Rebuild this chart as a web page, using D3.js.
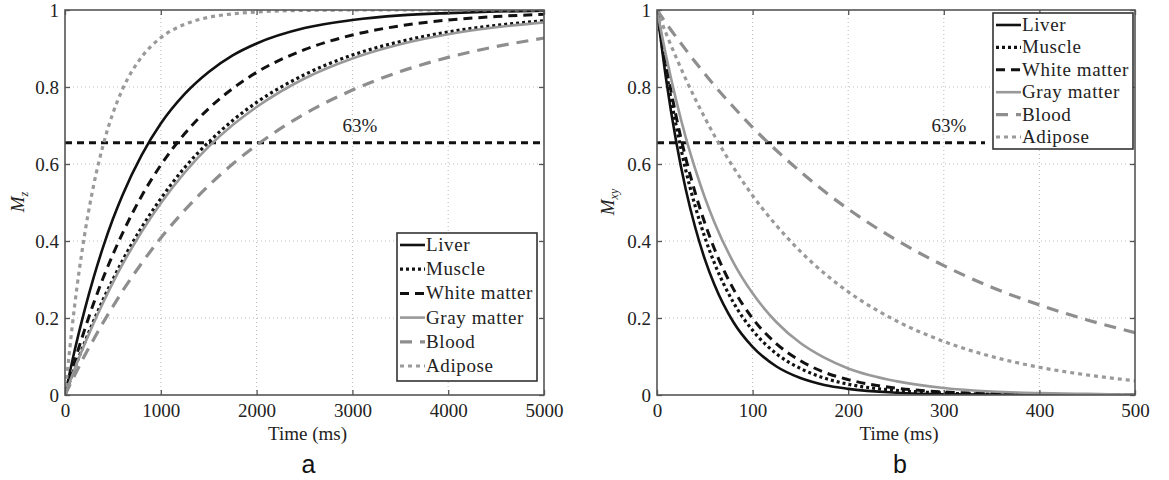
<!DOCTYPE html>
<html>
<head>
<meta charset="utf-8">
<script src="https://cdn.jsdelivr.net/npm/d3@7"></script>
<style>
  body { margin: 0; background: #fff; }
  text { font-family: "Liberation Serif", "Times New Roman", serif; fill: #222; }
  text.letter { font-family: "Liberation Sans", Arial, sans-serif; fill: #111; }
</style>
</head>
<body>
<svg id="chart" width="1169" height="480"></svg>
<script>
// tissue names (legend order)
const tissues = ["Liver", "Muscle", "White matter", "Gray matter", "Blood", "Adipose"];

// panel a: longitudinal recovery Mz
const t1Times = [0, 100, 200, 300, 400, 500, 600, 800, 1000, 1250, 1500, 1750, 2000, 2500, 3000, 3500, 4000, 4500, 5000];
const mzLiver   = [0, .115, .216, .306, .386, .457, .519, .623, .705, .782, .839, .882, .913, .953, .974, .986, .992, .996, .998];
const mzMuscle  = [0, .069, .133, .193, .249, .300, .349, .435, .510, .591, .657, .713, .760, .832, .883, .918, .943, .960, .972];
const mzWhite   = [0, .087, .166, .239, .305, .365, .420, .517, .597, .679, .744, .796, .838, .897, .935, .959, .974, .983, .989];
const mzGray    = [0, .067, .129, .187, .241, .292, .339, .424, .498, .578, .645, .701, .748, .822, .874, .911, .937, .955, .968];
const mzBlood   = [0, .051, .100, .145, .189, .230, .270, .342, .408, .480, .544, .600, .649, .730, .792, .840, .877, .905, .927];
const mzAdipose = [0, .231, .409, .546, .651, .732, .794, .878, .928, .963, .981, .990, .995, .999, 1, 1, 1, 1, 1];

// panel b: transverse decay Mxy
const t2Times = [0, 10, 20, 30, 40, 50, 60, 80, 100, 125, 150, 175, 200, 250, 300, 350, 400, 450, 500];
const mxyLiver   = [1, .812, .659, .535, .435, .353, .287, .189, .125, .074, .044, .026, .016, .006, .002, .001, 0, 0, 0];
const mxyMuscle  = [1, .836, .700, .585, .490, .410, .343, .240, .168, .107, .069, .044, .028, .012, .005, .002, .001, 0, 0];
const mxyWhite   = [1, .851, .724, .616, .525, .447, .380, .275, .199, .133, .089, .059, .040, .018, .008, .004, .002, .001, 0];
const mxyGray    = [1, .875, .766, .670, .587, .513, .449, .344, .264, .189, .135, .097, .069, .036, .018, .009, .005, .003, .001];
const mxyBlood   = [1, .964, .930, .897, .865, .834, .804, .748, .695, .635, .580, .529, .483, .403, .336, .280, .234, .195, .162];
const mxyAdipose = [1, .936, .877, .821, .769, .720, .674, .591, .518, .440, .373, .316, .268, .193, .139, .100, .072, .052, .037];

const refLevel = 0.655;   // the "63%" dashed line as drawn
const yTicks = [0, 0.2, 0.4, 0.6, 0.8, 1];
const t1Ticks = [0, 1000, 2000, 3000, 4000, 5000];
const t2Ticks = [0, 100, 200, 300, 400, 500];

// line styles
const styles = {
  "Liver":        { color: "#111", dash: null,    width: 2.6 },
  "Muscle":       { color: "#111", dash: "3,3",   width: 3.2 },
  "White matter": { color: "#111", dash: "9,6",   width: 3 },
  "Gray matter":  { color: "#999", dash: null,    width: 2.6 },
  "Blood":        { color: "#8e8e8e", dash: "12,8", width: 3.2 },
  "Adipose":      { color: "#9a9a9a", dash: "4,4", width: 3.2 }
};

const svg = d3.select("#chart");
svg.append("rect").attr("width", 1169).attr("height", 480).attr("fill", "#fff");

function drawPanel(o) {
  const x = d3.scaleLinear().domain([0, o.xMax]).range([o.x0, o.x1]);
  const y = d3.scaleLinear().domain([0, 1]).range([395, 10]);
  const g = svg.append("g");

  g.append("clipPath").attr("id", o.id + "-clip")
    .append("rect").attr("x", o.x0).attr("y", 10).attr("width", o.x1 - o.x0).attr("height", 385);

  // dotted grid
  g.selectAll(".gx").data(o.xTicks.slice(1, -1)).join("line")
    .attr("x1", d => x(d)).attr("x2", d => x(d)).attr("y1", y(0)).attr("y2", y(1))
    .attr("stroke", "#bbb").attr("stroke-width", 1).attr("stroke-dasharray", "1,3");
  g.selectAll(".gy").data(yTicks.slice(1, -1)).join("line")
    .attr("y1", d => y(d)).attr("y2", d => y(d)).attr("x1", o.x0).attr("x2", o.x1)
    .attr("stroke", "#bbb").attr("stroke-width", 1).attr("stroke-dasharray", "1,3");

  // 63% line
  g.append("line")
    .attr("x1", o.x0).attr("x2", o.refEnd).attr("y1", y(refLevel)).attr("y2", y(refLevel))
    .attr("stroke", "#111").attr("stroke-width", 3).attr("stroke-dasharray", "7,5");
  g.append("text").attr("x", o.refLabelX).attr("y", y(refLevel) - 11)
    .attr("text-anchor", "middle").attr("font-size", 19).text("63%");

  // curves
  const line = d3.line()
    .x((d, i) => x(o.times[i]))
    .y(d => y(d))
    .curve(d3.curveMonotoneX);
  const curves = g.append("g").attr("clip-path", "url(#" + o.id + "-clip)");
  tissues.forEach((name, k) => {
    const s = styles[name];
    curves.append("path")
      .attr("d", line(o.series[k]))
      .attr("fill", "none")
      .attr("stroke", s.color)
      .attr("stroke-width", s.width)
      .attr("stroke-dasharray", s.dash);
  });

  // axes (ticks inside on all four sides)
  const fmt = d3.format("");
  const bottom = g.append("g").attr("transform", "translate(0," + y(0) + ")")
    .call(d3.axisBottom(x).tickValues(o.xTicks).tickFormat(fmt).tickSizeInner(-5).tickSizeOuter(0).tickPadding(9));
  const left = g.append("g").attr("transform", "translate(" + o.x0 + ",0)")
    .call(d3.axisLeft(y).tickValues(yTicks).tickFormat(fmt).tickSizeInner(-5).tickSizeOuter(0).tickPadding(6));
  const top = g.append("g").attr("transform", "translate(0," + y(1) + ")")
    .call(d3.axisTop(x).tickValues(o.xTicks).tickFormat("").tickSizeInner(-5).tickSizeOuter(0));
  const right = g.append("g").attr("transform", "translate(" + o.x1 + ",0)")
    .call(d3.axisRight(y).tickValues(yTicks).tickFormat("").tickSizeInner(-5).tickSizeOuter(0));
  [bottom, left, top, right].forEach(a => {
    a.select(".domain").remove();
    a.selectAll("line").attr("stroke", "#555").attr("stroke-width", 1.3);
    a.selectAll("text").attr("font-size", 19).attr("fill", "#222");
  });

  // box
  g.append("rect").attr("x", o.x0).attr("y", y(1)).attr("width", o.x1 - o.x0).attr("height", y(0) - y(1))
    .attr("fill", "none").attr("stroke", "#555").attr("stroke-width", 1.6);

  // axis titles
  g.append("text").attr("x", (o.x0 + o.x1) / 2 + 3).attr("y", 440)
    .attr("text-anchor", "middle").attr("font-size", 19).text("Time (ms)");
  const yl = g.append("text")
    .attr("transform", "translate(" + o.yLabelX + ",202) rotate(-90)")
    .attr("text-anchor", "middle").attr("font-size", 19).attr("font-style", "italic");
  yl.append("tspan").text("M");
  yl.append("tspan").attr("font-size", 12).attr("dy", 4).text(o.sub);

  // panel letter
  g.append("text").attr("class", "letter").attr("x", (o.x0 + o.x1) / 2 + 4).attr("y", 473)
    .attr("text-anchor", "middle").attr("font-size", 25).text(o.letter);

  // legend
  const L = o.legend;
  const lg = g.append("g");
  lg.append("rect").attr("x", L.x).attr("y", L.y).attr("width", L.w).attr("height", L.h)
    .attr("fill", "#fff").attr("stroke", "#333").attr("stroke-width", 1.6);
  tissues.forEach((name, k) => {
    const s = styles[name];
    const ry = L.y + L.first + k * L.step;
    lg.append("line").attr("x1", L.x + 3).attr("x2", L.x + 28).attr("y1", ry).attr("y2", ry)
      .attr("stroke", s.color).attr("stroke-width", s.width).attr("stroke-dasharray", s.dash);
    lg.append("text").attr("x", L.x + 29).attr("y", ry + 6)
      .attr("font-size", 19).attr("letter-spacing", 0.6).text(name);
  });
}

drawPanel({
  id: "pa", letter: "a", sub: "z", x0: 65, x1: 544, xMax: 5000, xTicks: t1Ticks,
  times: t1Times, series: [mzLiver, mzMuscle, mzWhite, mzGray, mzBlood, mzAdipose],
  refEnd: 544, refLabelX: 360, yLabelX: 24,
  legend: { x: 397, y: 233, w: 140, h: 148, first: 12, step: 24.2 }
});

drawPanel({
  id: "pb", letter: "b", sub: "xy", x0: 657, x1: 1135, xMax: 500, xTicks: t2Ticks,
  times: t2Times, series: [mxyLiver, mxyMuscle, mxyWhite, mxyGray, mxyBlood, mxyAdipose],
  refEnd: 985, refLabelX: 949, yLabelX: 614,
  legend: { x: 993, y: 13, w: 140, h: 136, first: 12, step: 22.4 }
});
</script>
</body>
</html>
